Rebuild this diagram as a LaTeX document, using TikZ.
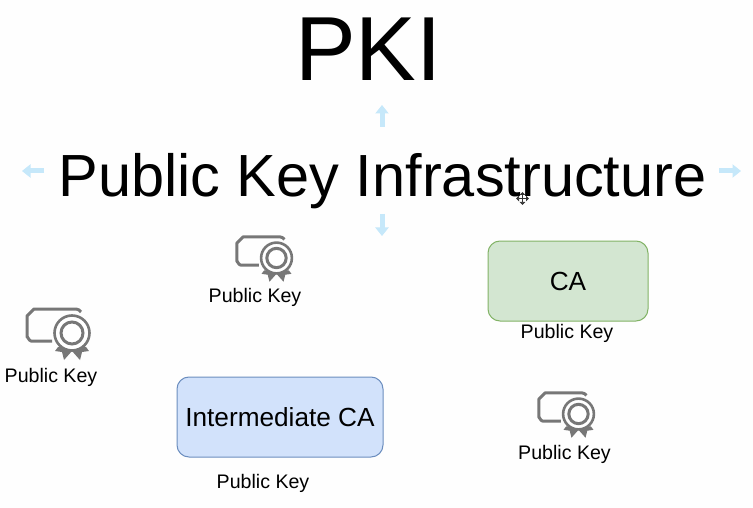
\documentclass[tikz,border=0pt]{standalone}
\usepackage{fontspec}
\setmainfont{Liberation Sans}
\usetikzlibrary{arrows.meta}
\definecolor{cagreen}{HTML}{D3E6D1}
\definecolor{caline}{HTML}{82B366}
\definecolor{interblue}{HTML}{D2E2FB}
\definecolor{interline}{HTML}{6C8EBF}
\definecolor{handle}{HTML}{C6E8FA}
\definecolor{certgray}{HTML}{777777}
\tikzset{pubkey/.style={font=\fontsize{19.6}{22}\selectfont, inner sep=0pt},
	cabox/.style={draw, rounded corners=12pt, line width=1pt, inner sep=0pt, font=\fontsize{26.2}{30}\selectfont},
	->-/.style={-{Triangle[length=8.5pt,width=13pt]}, line width=5pt, color=handle},
	cert/.pic={
		\draw[certgray, line width=3pt, line join=round] (-20,8) -- (-41,8) to[out=180,in=90] (-45,4) -- (-45,-17) -- (-38,-24) -- (4,-24) to[out=0,in=130] (9,-21);
		\fill[certgray] (-14,14) -- (-17,18) -- (-10,19) -- (-8,27) -- (0,18) -- (8,27) -- (10,19) -- (17,18) -- (14,14) -- cycle;
		\draw[certgray, fill=white, line width=2.6pt] (0,0) circle (17.5);
		\draw[certgray, fill=white, line width=3pt] (0,0) circle (11);
	}}
\begin{document}
\begin{tikzpicture}[x=1pt, y=-1pt]
	\useasboundingbox (0,0) rectangle (753,508);
	\fill[white!99.5!black] (0,0) rectangle (753,508);
	% titles
	\node[inner sep=0pt, font=\fontsize{91}{96}\selectfont] (pki) at (368.5,49.5) {PKI};
	\node[inner sep=0pt, font=\fontsize{59.5}{64}\selectfont] (title) at (382.5,181) {Public Key Infrastructure};
	% selection handles
	\coordinate (upfrom) at (382,127);
	\coordinate (upto) at (382,105);
	\coordinate (downfrom) at (382,214);
	\coordinate (downto) at (382,236);
	\coordinate (leftfrom) at (44,171);
	\coordinate (leftto) at (22,171);
	\coordinate (rightfrom) at (719,171);
	\coordinate (rightto) at (741,171);
	\draw[->-] (upfrom) to (upto);
	\draw[->-] (downfrom) to (downto);
	\draw[->-] (leftfrom) to (leftto);
	\draw[->-] (rightfrom) to (rightto);
	% cursor
	\coordinate (cursor) at (522.5,198.5);
	\foreach \ang in {0,90,180,270}
		\draw[black!80, line width=1.4pt, -{Triangle[length=3pt,width=5.5pt]}] (cursor) to ++(\ang:6.5);
	% boxes
	\node[cabox, fill=cagreen, draw=caline, minimum width=160pt, minimum height=80pt] (ca) at (568,281) {CA};
	\node[cabox, fill=interblue, draw=interline, minimum width=206pt, minimum height=80pt] (inter) at (280,417) {Intermediate CA};
	% certificates
	\pic[scale=.88] at (276.5,258) {cert};
	\pic at (72,333) {cert};
	\pic[scale=.88] at (578.5,414) {cert};
	% labels
	\node[pubkey] (keya) at (255,297.5) {Public Key};
	\node[pubkey] (keyb) at (51,377.5) {Public Key};
	\node[pubkey] (keyc) at (564.5,454) {Public Key};
	\node[pubkey] (keyca) at (567,333.5) {Public Key};
	\node[pubkey] (keyinter) at (263,483.5) {Public Key};
\end{tikzpicture}
\end{document}
